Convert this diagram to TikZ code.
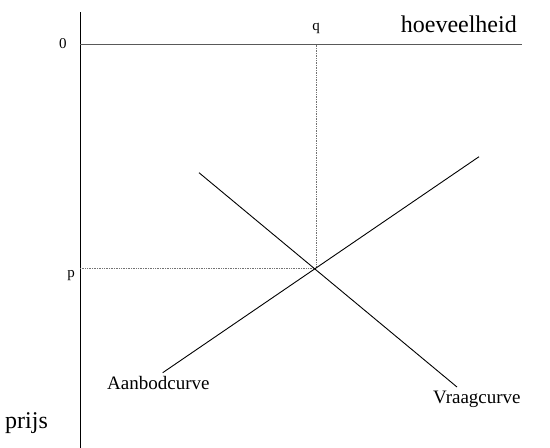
\documentclass[tikz,border=0pt]{standalone}
\usepackage{fontspec}
\setmainfont{Liberation Serif}
\usetikzlibrary{positioning}

\begin{document}
\begin{tikzpicture}[x=1pt,y=-1pt,
axis/.style={line width=1pt,draw=black},
qaxisline/.style={line width=1.4pt,draw=black!65},
helper/.style={densely dotted,line width=0.7pt,draw=black!55},
curve/.style={line width=0.9pt,draw=black},
small/.style={font=\fontsize{15}{18}\selectfont,anchor=base,inner sep=0pt},
curvelabel/.style={font=\fontsize{19}{22}\selectfont,anchor=base west,inner sep=0pt},
axislabel/.style={font=\fontsize{24}{28}\selectfont,inner sep=0pt}
]
\useasboundingbox (0,0) rectangle (550,448);
% axes
\coordinate (ytop) at (80,12);
\coordinate (ybottom) at (80,448);
\coordinate (origin) at (80,44.5);
\coordinate (xend) at (522,44.5);
% equilibrium
\coordinate (eq) at (316,268.5);
\coordinate (qmark) at (316,44.5);
\coordinate (pmark) at (80,268.5);
% curve ends
\coordinate (slow) at (162.7,372.7);
\coordinate (shigh) at (479,156.7);
\coordinate (dhigh) at (199,172.7);
\coordinate (dlow) at (457,387);

\node[small] (zero) at (63,48) {0};
\node[small] (q) at (316,30) {q};
\node[small] (p) at (71,277) {p};
\node[axislabel,anchor=base east] (hoev) at (517,32) {hoeveelheid};
\node[axislabel,anchor=base west] (prijs) at (5,428) {prijs};
\node[curvelabel] (aanbod) at (107,389) {Aanbodcurve};
\node[curvelabel] (vraag) at (433,403) {Vraagcurve};

\draw[axis] (ytop) -- (ybottom);
\draw[qaxisline] (origin) -- (xend);
\draw[helper] (qmark) -- (eq);
\draw[helper] (pmark) -- (eq);
\draw[curve] (slow) -- (shigh);
\draw[curve] (dhigh) -- (dlow);
\end{tikzpicture}
\end{document}
